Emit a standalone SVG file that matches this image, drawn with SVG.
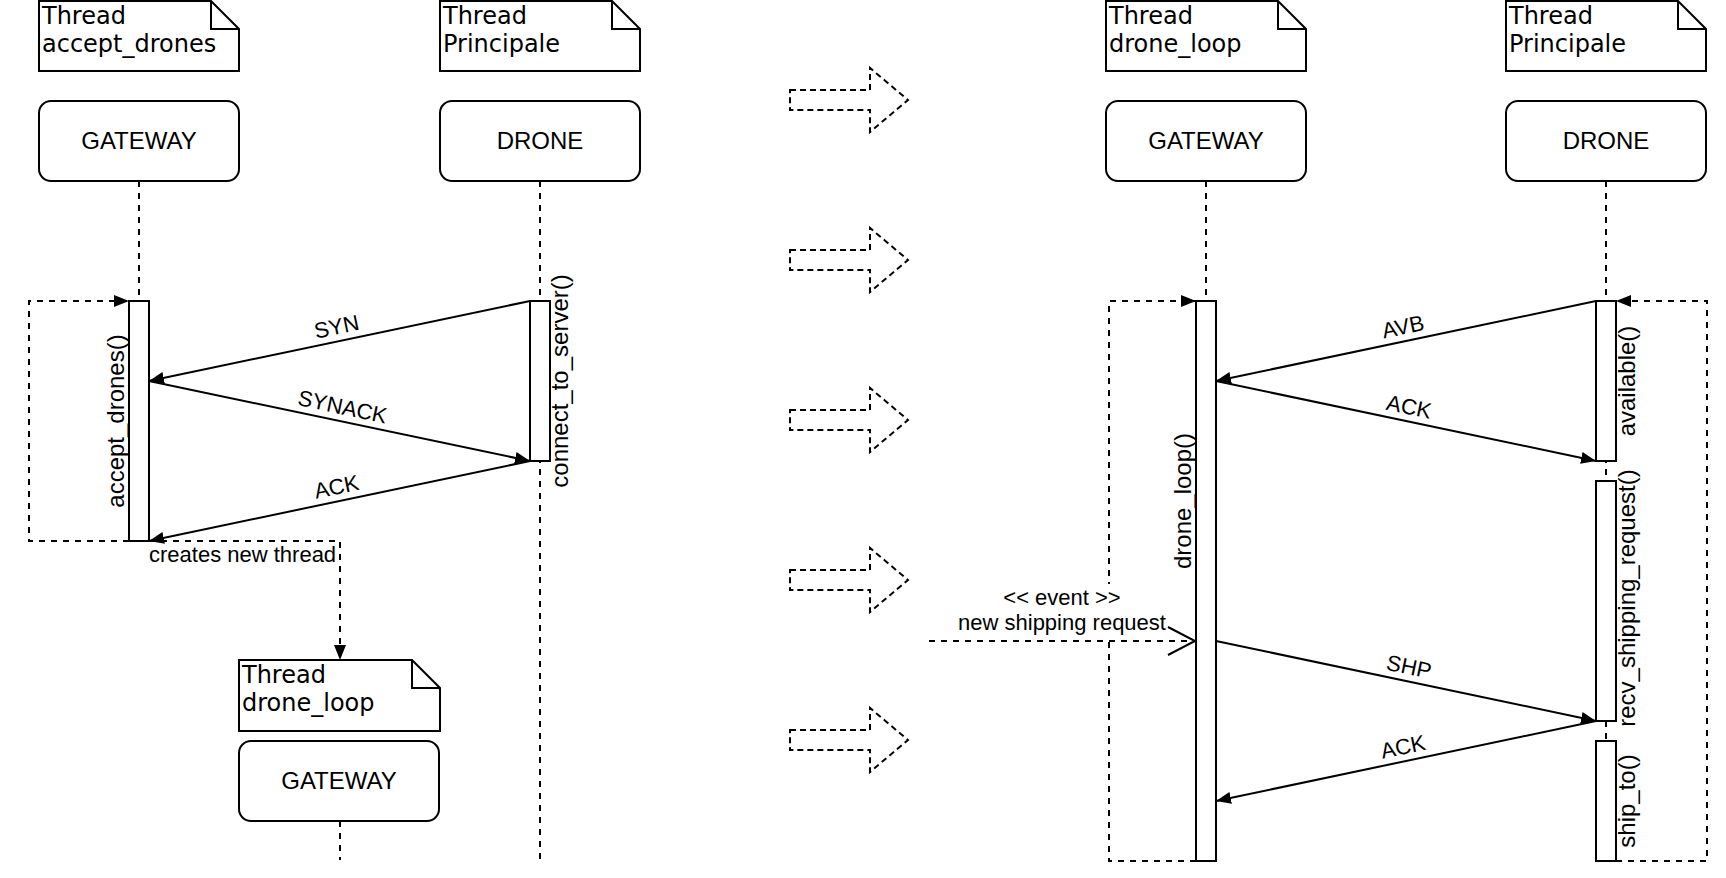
<svg xmlns="http://www.w3.org/2000/svg" width="1726" height="878" viewBox="0 0 1726 878">
<defs>
<marker id="ah" markerUnits="userSpaceOnUse" markerWidth="16" markerHeight="12" viewBox="0 0 16 12" refX="15" refY="6" orient="auto"><path d="M0,0 L15,6 L0,12 z" fill="#000"/></marker>
<style>
.box{fill:#fff;stroke:#000;stroke-width:2}
.note{fill:#fff;stroke:#000;stroke-width:2}
.fold{fill:none;stroke:#000;stroke-width:2}
.life{stroke:#000;stroke-width:2;stroke-dasharray:6 6;fill:none}
.bar{fill:#fff;stroke:#000;stroke-width:2}
.msg{stroke:#000;stroke-width:2;fill:none;marker-end:url(#ah)}
.dmsg{stroke:#000;stroke-width:2;stroke-dasharray:6 6;fill:none;marker-end:url(#ah)}
.dash{stroke:#000;stroke-width:2;stroke-dasharray:6 6;fill:none}
.open{stroke:#000;stroke-width:2;fill:none}
.blk{fill:none;stroke:#000;stroke-width:2;stroke-dasharray:6 4}
text{font-family:"Liberation Sans",Arial,Helvetica,sans-serif;fill:#000}
text.nt{font-family:"DejaVu Sans",Verdana,sans-serif;font-size:24px}
.t24{font-size:24px}
.t22{font-size:22px}
.c{text-anchor:middle}
</style>
</defs>
<rect width="1726" height="878" fill="#fff"/>

<!-- big dashed block arrows -->
<g id="transition-arrows">
<polygon class="blk" points="790,90 870,90 870,68 908,100 870,132 870,110 790,110"/>
<polygon class="blk" points="790,250 870,250 870,228 908,260 870,292 870,270 790,270"/>
<polygon class="blk" points="790,410 870,410 870,388 908,420 870,452 870,430 790,430"/>
<polygon class="blk" points="790,570 870,570 870,548 908,580 870,612 870,590 790,590"/>
<polygon class="blk" points="790,730 870,730 870,708 908,740 870,772 870,750 790,750"/>
</g>

<!-- lifelines (dashed) -->
<g id="lifelines">
<line class="life" x1="139" y1="181" x2="139" y2="301"/>
<line class="life" x1="540" y1="181" x2="540" y2="860"/>
<line class="life" x1="340" y1="821" x2="340" y2="860"/>
<line class="life" x1="1206" y1="181" x2="1206" y2="301"/>
<line class="life" x1="1606" y1="181" x2="1606" y2="741"/>
</g>

<!-- left side nodes -->
<g id="note-accept-drones">
<path class="note" d="M39,1 H211 L239,29 V71 H39 Z"/>
<path class="fold" d="M211,1 V29 H239"/>
<text class="nt" x="42" y="24">Thread</text>
<text class="nt" x="42" y="52">accept_drones</text>
</g>
<g id="note-principale-left">
<path class="note" d="M440,1 H612 L640,29 V71 H440 Z"/>
<path class="fold" d="M612,1 V29 H640"/>
<text class="nt" x="443" y="24">Thread</text>
<text class="nt" x="443" y="52">Principale</text>
</g>
<g id="gateway-left">
<rect class="box" x="39" y="101" width="200" height="80" rx="12"/>
<text class="t24 c" x="139" y="149">GATEWAY</text>
</g>
<g id="drone-left">
<rect class="box" x="440" y="101" width="200" height="80" rx="12"/>
<text class="t24 c" x="540" y="149">DRONE</text>
</g>
<g id="act-accept-drones">
<rect class="bar" x="129" y="301" width="20" height="240"/>
<text class="t24 c" transform="rotate(-90 124 421)" x="124" y="421">accept_drones()</text>
</g>
<g id="act-connect-to-server">
<rect class="bar" x="530" y="301" width="20" height="160"/>
<text class="t24 c" transform="rotate(-90 568 381)" x="568" y="381">connect_to_server()</text>
</g>
<g id="note-drone-loop-new">
<path class="note" d="M239,660 H412 L440,688 V731 H239 Z"/>
<path class="fold" d="M412,660 V688 H440"/>
<text class="nt" x="242" y="683">Thread</text>
<text class="nt" x="242" y="711">drone_loop</text>
</g>
<g id="gateway-new">
<rect class="box" x="239" y="741" width="200" height="80" rx="12"/>
<text class="t24 c" x="339" y="789">GATEWAY</text>
</g>

<!-- right side nodes -->
<g id="note-drone-loop">
<path class="note" d="M1106,1 H1278 L1306,29 V71 H1106 Z"/>
<path class="fold" d="M1278,1 V29 H1306"/>
<text class="nt" x="1109" y="24">Thread</text>
<text class="nt" x="1109" y="52">drone_loop</text>
</g>
<g id="note-principale-right">
<path class="note" d="M1506,1 H1678 L1706,29 V71 H1506 Z"/>
<path class="fold" d="M1678,1 V29 H1706"/>
<text class="nt" x="1509" y="24">Thread</text>
<text class="nt" x="1509" y="52">Principale</text>
</g>
<g id="gateway-right">
<rect class="box" x="1106" y="101" width="200" height="80" rx="12"/>
<text class="t24 c" x="1206" y="149">GATEWAY</text>
</g>
<g id="drone-right">
<rect class="box" x="1506" y="101" width="200" height="80" rx="12"/>
<text class="t24 c" x="1606" y="149">DRONE</text>
</g>
<g id="act-drone-loop">
<rect class="bar" x="1196" y="301" width="20" height="560"/>
<text class="t24 c" transform="rotate(-90 1191 501)" x="1191" y="501">drone_loop()</text>
</g>
<g id="act-available">
<rect class="bar" x="1596" y="301" width="20" height="160"/>
<text class="t24 c" transform="rotate(-90 1635 381)" x="1635" y="381">available()</text>
</g>
<g id="act-recv-shipping-request">
<rect class="bar" x="1596" y="481" width="20" height="240"/>
<text class="t24 c" transform="rotate(-90 1635 598)" x="1635" y="598">recv_shipping_request()</text>
</g>
<g id="act-ship-to">
<rect class="bar" x="1596" y="741" width="20" height="120"/>
<text class="t24 c" transform="rotate(-90 1635 801)" x="1635" y="801">ship_to()</text>
</g>

<!-- connectors -->
<g id="connectors">
<!-- left self loop -->
<polyline class="dmsg" points="129,541 29,541 29,301 129,301"/>
<!-- creates new thread -->
<polyline class="dmsg" points="149,541 340,541 340,660"/>
<text class="t22" x="149" y="562">creates new thread</text>

<line class="msg" x1="530" y1="301" x2="149" y2="381"/>
<text class="t22 c" transform="rotate(-11.86 339.5 341)" x="339.5" y="334">SYN</text>
<line class="msg" x1="149" y1="381" x2="530" y2="461"/>
<text class="t22 c" transform="rotate(11.86 339.5 421)" x="339.5" y="414">SYNACK</text>
<line class="msg" x1="530" y1="461" x2="149" y2="541"/>
<text class="t22 c" transform="rotate(-11.86 339.5 501)" x="339.5" y="494">ACK</text>

<!-- right self loops -->
<polyline class="dmsg" points="1196,861 1109,861 1109,301 1196,301"/>
<polyline class="dmsg" points="1616,861 1707,861 1707,301 1616,301"/>

<line class="msg" x1="1596" y1="301" x2="1216" y2="381"/>
<text class="t22 c" transform="rotate(-11.89 1406 341)" x="1406" y="334">AVB</text>
<line class="msg" x1="1216" y1="381" x2="1596" y2="461"/>
<text class="t22 c" transform="rotate(11.89 1406 421)" x="1406" y="414">ACK</text>

<!-- event -->
<rect x="956" y="584" width="212" height="53" fill="#fff"/>
<text class="t22 c" x="1062" y="605">&lt;&lt; event &gt;&gt;</text>
<text class="t22 c" x="1062" y="630">new shipping request</text>
<line class="dash" x1="929" y1="641" x2="1195" y2="641"/>
<polyline class="open" points="1168,627 1195,641 1168,655"/>

<line class="msg" x1="1216" y1="641" x2="1596" y2="721"/>
<text class="t22 c" transform="rotate(11.89 1406 681)" x="1406" y="674">SHP</text>
<line class="msg" x1="1596" y1="721" x2="1216" y2="801"/>
<text class="t22 c" transform="rotate(-11.89 1406 761)" x="1406" y="754">ACK</text>
</g>
</svg>
